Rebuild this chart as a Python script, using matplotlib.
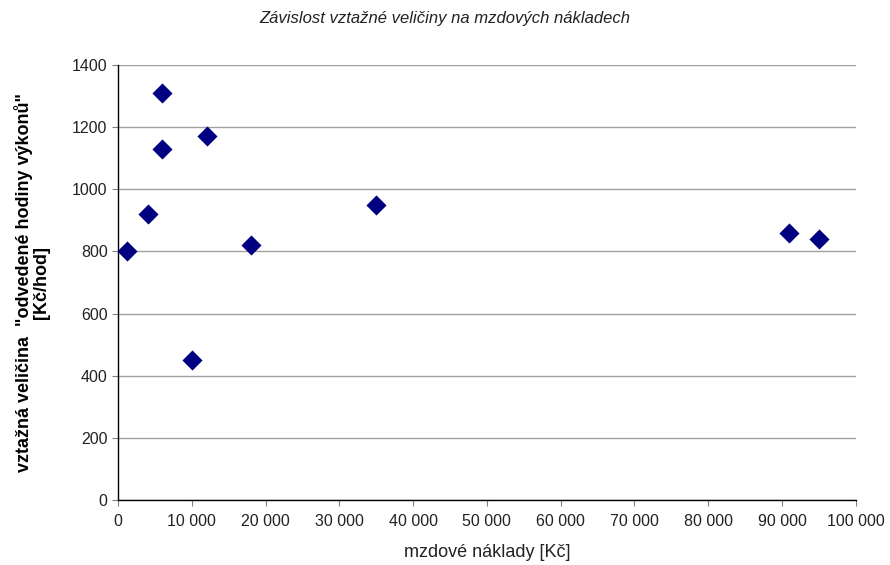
import matplotlib
matplotlib.use("Agg")
import matplotlib.pyplot as plt
from matplotlib.ticker import FuncFormatter, MultipleLocator

plt.rcParams['font.family'] = ['Liberation Sans', 'DejaVu Sans']

# wage costs [Kč] and relative quantity [Kč/hod]
mzdove_naklady = [1200, 4000, 6000, 6000, 10000, 12000, 18000, 35000, 91000, 95000]
vztazna_velicina = [800, 920, 1310, 1130, 450, 1170, 820, 950, 860, 840]

fig = plt.figure(figsize=(8.9, 5.65), dpi=100)
ax = fig.add_axes([0.1326, 0.115, 0.829, 0.77])

ax.scatter(mzdove_naklady, vztazna_velicina, marker='D', s=105,
           color='#000080', zorder=3, linewidths=0)

ax.set_xlim(0, 100000)
ax.set_ylim(0, 1400)
ax.xaxis.set_major_locator(MultipleLocator(10000))
ax.yaxis.set_major_locator(MultipleLocator(200))
ax.xaxis.set_major_formatter(FuncFormatter(lambda v, p: f"{int(v):,}".replace(",", " ")))

ax.grid(axis='y', color='#a0a0a0', linewidth=1)
ax.set_axisbelow(True)
for s in ('top', 'right'):
    ax.spines[s].set_visible(False)
for s in ('left', 'bottom'):
    ax.spines[s].set_color('black')
    ax.spines[s].set_linewidth(1)

ax.tick_params(axis='both', labelsize=11.5, labelcolor='#222222', length=4,
               width=0.8, direction='out', color='#808080')
ax.tick_params(axis='x', pad=6)

ax.set_xlabel('mzdové náklady [Kč]', fontsize=13, labelpad=11, color='#222222')
ax.set_ylabel('vztažná veličina  "odvedené hodiny výkonů"\n[Kč/hod]',
              fontsize=13, fontweight='bold', labelpad=16, linespacing=1.0)
fig.text(0.5, 0.967, 'Závislost vztažné veličiny na mzdových nákladech',
         ha='center', va='center', fontsize=12, style='italic', color='#222222')

fig.savefig('out.png', dpi=100)
